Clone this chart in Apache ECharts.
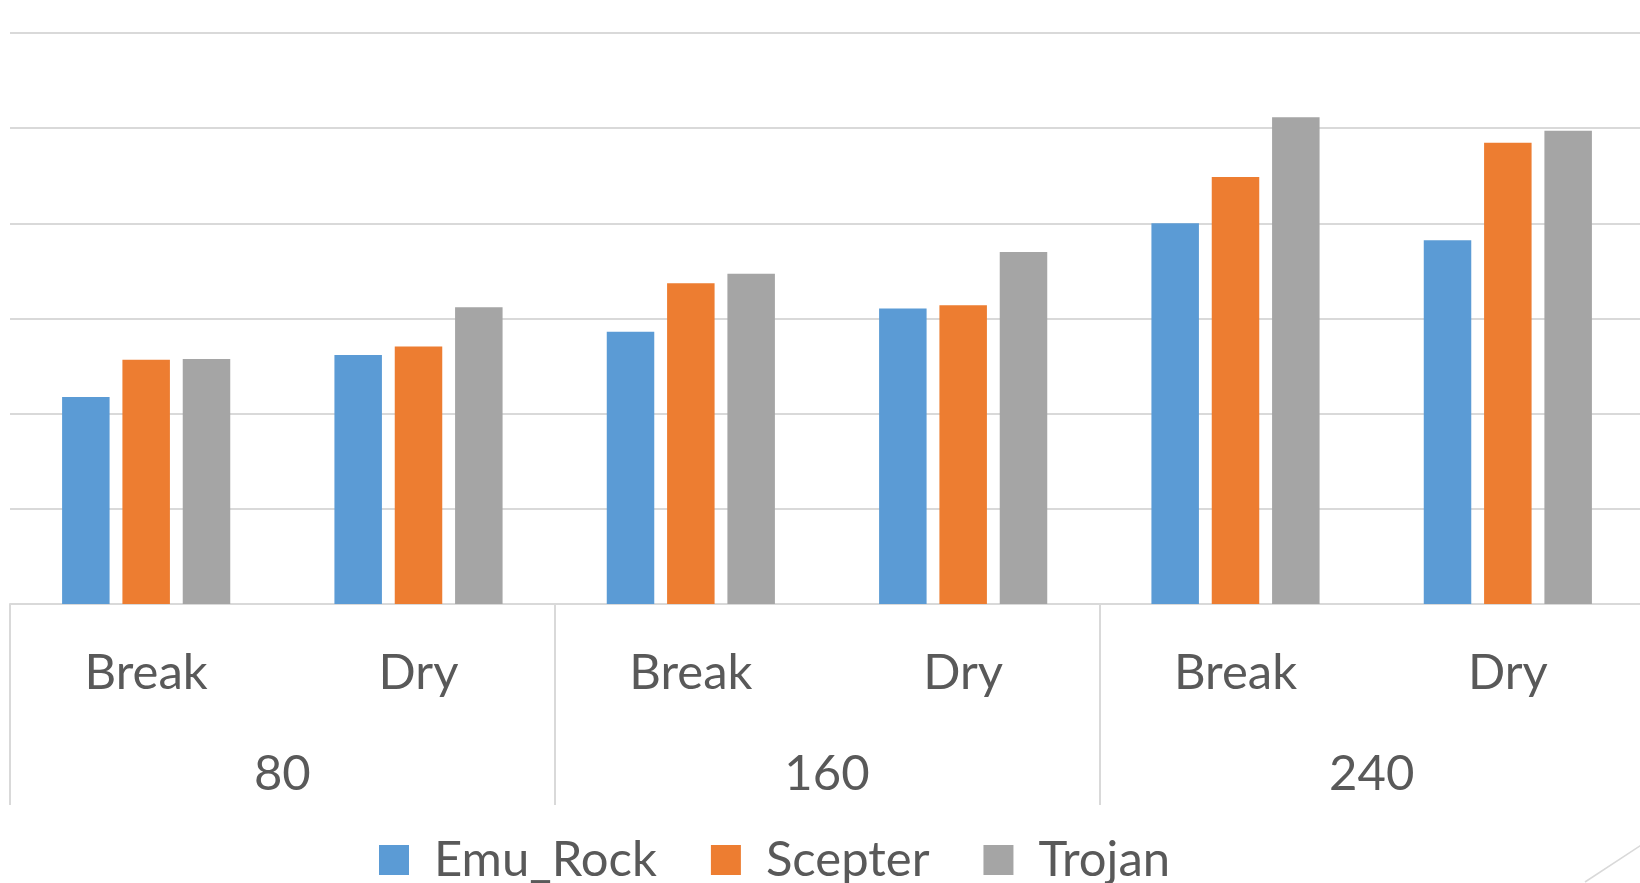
<!DOCTYPE html>
<html><head><meta charset="utf-8">
<script src="https://cdn.jsdelivr.net/npm/echarts@6/dist/echarts.min.js"></script>
<style>html,body{margin:0;padding:0;background:#fff}#c{width:1640px;height:883px}</style>
</head><body><div id="c"></div>
<script>
const subCategories = ['Break', 'Dry', 'Break', 'Dry', 'Break', 'Dry'];
const groupCategories = ['80', '160', '240'];
const seriesNames = ['Emu_Rock', 'Scepter', 'Trojan'];
const emuRock = [21.75, 26.16, 28.6, 31.05, 40.0, 38.21];
const scepter = [25.67, 27.07, 33.7, 31.4, 44.87, 48.47];
const trojan = [25.74, 31.17, 34.7, 37.0, 51.14, 49.73];
const colors = ['#5B9BD5', '#ED7D31', '#A5A5A5'];

const FONT = 'Lato';
const TXT = '#595959';
const LINE = '#D9D9D9';
const FS = 49;

const chart = echarts.init(document.getElementById('c'), null, {renderer: 'canvas'});
const seriesData = [emuRock, scepter, trojan];
chart.setOption({
  animation: false,
  color: colors,
  grid: {left: 10, width: 1634, top: 33, bottom: 279, containLabel: false, outerBoundsMode: 'none'},
  legend: {
    data: seriesNames,
    left: 379,
    top: 831,
    padding: 0,
    itemWidth: 30,
    itemHeight: 30,
    itemGap: 54,
    icon: 'rect',
    textStyle: {fontFamily: FONT, fontSize: FS, color: TXT, lineHeight: FS, padding: [0, 0, 9, 20]}
  },
  xAxis: [
    {
      type: 'category',
      data: subCategories,
      axisLine: {show: true, lineStyle: {color: LINE, width: 2}},
      axisTick: {show: false},
      axisLabel: {interval: 0, margin: 45, fontFamily: FONT, fontSize: FS, lineHeight: FS, color: TXT}
    },
    {
      type: 'category',
      data: groupCategories,
      position: 'bottom',
      axisLine: {show: false},
      axisTick: {show: true, length: 201, interval: 0, lineStyle: {color: LINE, width: 2}},
      axisLabel: {interval: 0, margin: 146, fontFamily: FONT, fontSize: FS, lineHeight: FS, color: TXT},
      splitLine: {show: false}
    }
  ],
  yAxis: {
    type: 'value',
    min: 0, max: 60, interval: 10,
    axisLine: {show: false},
    axisTick: {show: false},
    axisLabel: {show: false},
    splitLine: {lineStyle: {color: LINE, width: 2}}
  },
  series: seriesNames.map((name, i) => ({
    name: name,
    type: 'bar',
    xAxisIndex: 0,
    data: seriesData[i],
    barWidth: 47.5,
    barGap: '27%'
  })),
  graphic: [{
    type: 'line',
    shape: {x1: 1585, y1: 882, x2: 1646, y2: 842},
    style: {stroke: LINE, lineWidth: 1.5}
  }]
});
</script>
</body></html>
